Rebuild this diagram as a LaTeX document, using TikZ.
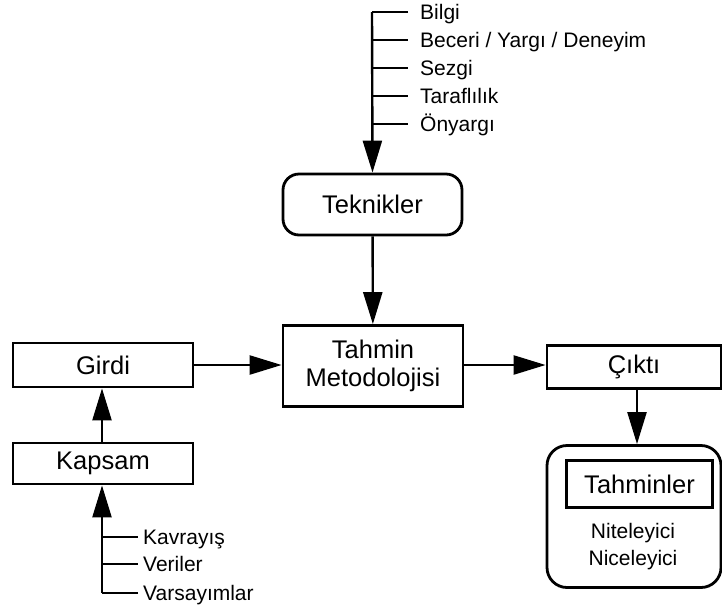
\documentclass[tikz,border=0pt]{standalone}
\usepackage{fontspec}
\setmainfont{Liberation Sans}
\usetikzlibrary{arrows.meta}
\begin{document}
\begin{tikzpicture}[x=1pt,y=-1pt,
  line join=miter,
  box/.style={draw, line width=2.8pt, inner sep=0pt, align=center,
    font=\fontsize{25.5}{28}\selectfont},
  item/.style={anchor=west, inner sep=0pt, text height=14.6pt, text depth=0pt,
    font=\fontsize{21}{23}\selectfont},
  note/.style={inner sep=0pt, font=\fontsize{21}{23}\selectfont},
  wire/.style={line width=2.4pt},
  arr/.style={line width=2.4pt, -{Triangle[length=32pt,width=19pt]}}
]
\useasboundingbox (0,0) rectangle (722,614);

% main boxes
\node[box, rounded corners=16pt, minimum width=179pt, minimum height=61pt] (tek) at (372.5,204.5) {Teknikler};
\node[box, minimum width=180pt, minimum height=81pt] (tm) at (373,366) {Tahmin\\Metodolojisi};
\node[box, minimum width=180pt, minimum height=44pt] (girdi) at (103,365) {Girdi};
\node[box, minimum width=180pt, minimum height=41pt] (kapsam) at (103,463.5) {Kapsam};
\node[box, minimum width=174pt, minimum height=43pt] (cikti) at (634,367) {Çıktı};
\node[box, rounded corners=20pt, minimum width=174pt, minimum height=142pt] (sonuc) at (634,516.5) {};
\node[box, line width=3.2pt, minimum width=146pt, minimum height=47pt] (tahminler) at (639.5,484) {Tahminler};
\node[note] (nitel) at (633,533) {Niteleyici};
\node[note] (nicel) at (633,560) {Niceleyici};

% inputs feeding the techniques
\coordinate (t1) at (372,12);
\coordinate (t2) at (372,40);
\coordinate (t3) at (372,68);
\coordinate (t4) at (372,96);
\coordinate (t5) at (372,124);
\node[item] (bilgi) at (420,12) {Bilgi};
\node[item] (beceri) at (420,40) {Beceri / Yargı / Deneyim};
\node[item] (sezgi) at (420,68) {Sezgi};
\node[item] (taraf) at (420,96) {Taraflılık};
\node[item] (onyargi) at (420,124) {Önyargı};
\draw[wire] (408,12) -- (t1);
\foreach \c/\y in {t2/40,t3/68,t4/96,t5/124}
  \draw[wire] (\c) -- (408,\y);
\draw[arr] (t1) -- (tek.north);

% inputs feeding the scope
\coordinate (k1) at (102,537);
\coordinate (k2) at (102,564);
\coordinate (k3) at (102,593);
\node[item] (kavrayis) at (143,537) {Kavrayış};
\node[item] (veriler) at (143,564) {Veriler};
\node[item] (varsayim) at (143,593) {Varsayımlar};
\draw[wire] (k1) -- (138,537);
\draw[wire] (k2) -- (138,564);
\draw[wire] (138,593) -- (k3);
\draw[arr] (k3) -- (kapsam.south -| k3);

% flow between boxes
\draw[arr] (tek) -- (tm);
\draw[arr] (kapsam.north -| k3) -- (girdi.south -| k3);
\draw[arr] (girdi.east) -- (tm.west |- girdi.east);
\draw[arr] (tm.east |- girdi.east) -- (cikti.west |- girdi.east);
\coordinate (cx) at (637,0);
\draw[arr] (cikti.south -| cx) -- (sonuc.north -| cx);
\end{tikzpicture}
\end{document}
